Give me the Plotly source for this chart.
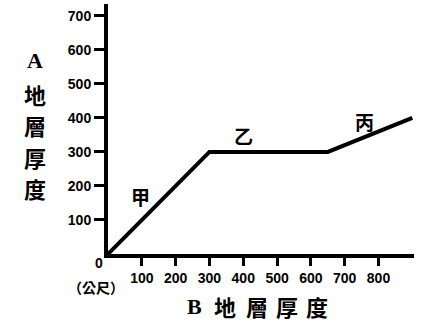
import plotly.graph_objects as go

# Data
b_thickness = [0, 300, 650, 900]
a_thickness = [0, 300, 300, 400]
x_ticks = [100, 200, 300, 400, 500, 600, 700, 800]
y_ticks = [100, 200, 300, 400, 500, 600, 700]
seg_labels = ["甲", "乙", "丙"]
seg_label_x = [95, 400, 760]
seg_label_y = [170, 347, 391]

W, H = 428, 333
L, R, T, B = 108, 14, 4, 79
pw, ph = W - L - R, H - T - B

def px(x):
    return (x - L) / pw

def py(y):
    return (H - B - y) / ph

CJK = "Noto Sans CJK TC"
fig = go.Figure()
fig.add_trace(go.Scatter(x=b_thickness, y=a_thickness, mode="lines",
                         line=dict(color="black", width=4), showlegend=False,
                         hoverinfo="skip"))

ann = []
for t, x, y in zip(seg_labels, seg_label_x, seg_label_y):
    ann.append(dict(x=x, y=y, xref="x", yref="y", text=t, showarrow=False,
                    font=dict(family=CJK, size=19, color="black", weight="bold")))

# y-axis title (vertical)
ychars = ["A", "地", "層", "厚", "度"]
ypos = [61, 94, 125, 157, 188]
for c, yy in zip(ychars, ypos):
    fam = "Liberation Serif" if c == "A" else CJK
    ann.append(dict(x=px(35), y=py(yy), xref="paper", yref="paper", text=c,
                    showarrow=False, xanchor="center", yanchor="middle",
                    font=dict(family=fam, size=22, color="black", weight="bold")))

# x-axis title
xchars = ["B", "地", "層", "厚", "度"]
xpos = [194, 225, 257, 287, 317]
for c, xx in zip(xchars, xpos):
    fam = "Liberation Serif" if c == "B" else CJK
    ann.append(dict(x=px(xx), y=py(306), xref="paper", yref="paper", text=c,
                    showarrow=False, xanchor="center", yanchor="middle",
                    font=dict(family=fam, size=22, color="black", weight="bold")))

ann.append(dict(x=px(99), y=py(263), xref="paper", yref="paper", text="0",
                showarrow=False, xanchor="center", yanchor="middle",
                font=dict(family="Liberation Sans", size=14, color="black", weight="bold")))
ann.append(dict(x=px(96), y=py(287), xref="paper", yref="paper", text="（公尺）",
                showarrow=False, xanchor="center", yanchor="middle",
                font=dict(family=CJK, size=14, color="black", weight="bold")))

tickfont = dict(family="Liberation Sans", size=14, color="black", weight="bold")
fig.update_layout(
    width=W, height=H,
    margin=dict(l=L, r=R, t=T, b=B),
    paper_bgcolor="white", plot_bgcolor="white",
    annotations=ann,
    xaxis=dict(range=[0, 905], tickvals=x_ticks, ticktext=[str(v) for v in x_ticks],
               showgrid=False, zeroline=False, showline=True, linecolor="black",
               linewidth=4, ticks="outside", ticklen=8, tickwidth=3,
               tickcolor="black", tickfont=tickfont, fixedrange=True),
    yaxis=dict(range=[0, 735], tickvals=y_ticks, ticktext=[str(v) for v in y_ticks],
               showgrid=False, zeroline=False, showline=True, linecolor="black",
               linewidth=4, ticks="outside", ticklen=10, tickwidth=3,
               tickcolor="black", tickfont=tickfont, fixedrange=True),
)
fig.write_html("out.html", config={"displayModeBar": False})
